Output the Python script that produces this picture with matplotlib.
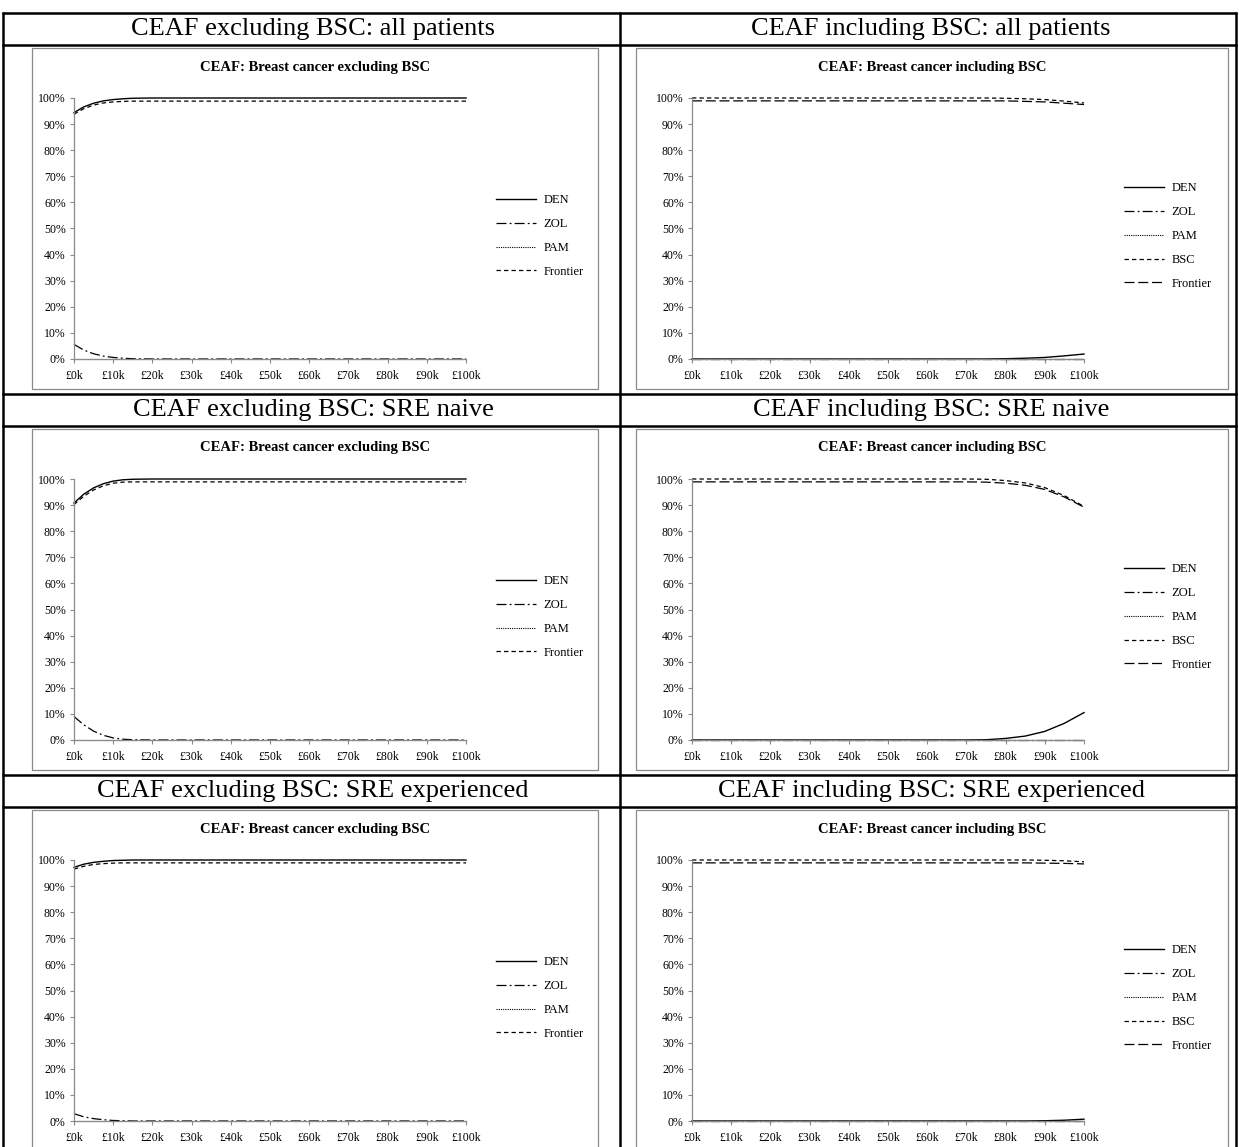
import matplotlib
matplotlib.use('Agg')
import matplotlib.pyplot as plt
from matplotlib.lines import Line2D
from matplotlib.patches import Rectangle

plt.rcParams['font.family'] = ['Liberation Serif', 'DejaVu Serif']

W, H = 1239, 1147

# willingness to pay threshold (£k)
wtp = [0, 2.5, 5, 7.5, 10, 12.5, 15, 20, 30, 40, 50, 60, 70, 75, 80, 85, 90, 95, 100]
zeros = [0] * len(wtp)

# CEAF excluding BSC
ex_all_den = [94.4, 96.6, 98.0, 98.9, 99.4, 99.7, 99.9, 100, 100, 100, 100, 100, 100, 100, 100, 100, 100, 100, 100]
ex_all_zol = [5.6, 3.4, 2.0, 1.1, 0.6, 0.3, 0.1, 0, 0, 0, 0, 0, 0, 0, 0, 0, 0, 0, 0]
ex_all_front = [93.8, 95.9, 97.3, 98.1, 98.5, 98.7, 98.8, 98.8, 98.8, 98.8, 98.8, 98.8, 98.8, 98.8, 98.8, 98.8, 98.8, 98.8, 98.8]

ex_naive_den = [90.8, 94.2, 96.6, 98.2, 99.2, 99.7, 99.9, 100, 100, 100, 100, 100, 100, 100, 100, 100, 100, 100, 100]
ex_naive_zol = [9.0, 5.8, 3.4, 1.8, 0.8, 0.3, 0.1, 0, 0, 0, 0, 0, 0, 0, 0, 0, 0, 0, 0]
ex_naive_front = [90.2, 93.4, 95.8, 97.4, 98.4, 98.8, 98.9, 98.9, 98.9, 98.9, 98.9, 98.9, 98.9, 98.9, 98.9, 98.9, 98.9, 98.9, 98.9]

ex_exp_den = [97.2, 98.4, 99.1, 99.5, 99.8, 99.9, 100, 100, 100, 100, 100, 100, 100, 100, 100, 100, 100, 100, 100]
ex_exp_zol = [2.8, 1.6, 0.9, 0.5, 0.2, 0.1, 0, 0, 0, 0, 0, 0, 0, 0, 0, 0, 0, 0, 0]
ex_exp_front = [96.5, 97.6, 98.3, 98.6, 98.8, 98.9, 98.9, 98.9, 98.9, 98.9, 98.9, 98.9, 98.9, 98.9, 98.9, 98.9, 98.9, 98.9, 98.9]

# CEAF including BSC
in_all_den = [0, 0, 0, 0, 0, 0, 0, 0, 0, 0, 0, 0, 0, 0, 0.1, 0.3, 0.6, 1.2, 1.9]
in_all_bsc = [100, 100, 100, 100, 100, 100, 100, 100, 100, 100, 100, 100, 100, 100, 99.9, 99.7, 99.4, 98.8, 98.1]
in_all_front = [98.9, 98.9, 98.9, 98.9, 98.9, 98.9, 98.9, 98.9, 98.9, 98.9, 98.9, 98.9, 98.9, 98.9, 98.9, 98.7, 98.5, 98.0, 97.5]

in_naive_den = [0, 0, 0, 0, 0, 0, 0, 0, 0, 0, 0, 0, 0, 0.1, 0.6, 1.5, 3.3, 6.4, 10.5]
in_naive_bsc = [100, 100, 100, 100, 100, 100, 100, 100, 100, 100, 100, 100, 100, 99.9, 99.4, 98.5, 96.7, 93.6, 89.5]
in_naive_front = [98.9, 98.9, 98.9, 98.9, 98.9, 98.9, 98.9, 98.9, 98.9, 98.9, 98.9, 98.9, 98.9, 98.8, 98.4, 97.6, 96.0, 93.1, 89.2]

in_exp_den = [0, 0, 0, 0, 0, 0, 0, 0, 0, 0, 0, 0, 0, 0, 0, 0, 0.1, 0.3, 0.7]
in_exp_bsc = [100, 100, 100, 100, 100, 100, 100, 100, 100, 100, 100, 100, 100, 100, 100, 100, 99.9, 99.7, 99.3]
in_exp_front = [98.9, 98.9, 98.9, 98.9, 98.9, 98.9, 98.9, 98.9, 98.9, 98.9, 98.9, 98.9, 98.9, 98.9, 98.9, 98.9, 98.8, 98.7, 98.5]

headers_left = ['CEAF excluding BSC: all patients', 'CEAF excluding BSC: SRE naive',
                'CEAF excluding BSC: SRE experienced']
headers_right = ['CEAF including BSC: all patients', 'CEAF including BSC: SRE naive',
                 'CEAF including BSC: SRE experienced']
title_left = 'CEAF: Breast cancer excluding BSC'
title_right = 'CEAF: Breast cancer including BSC'
xticks = list(range(0, 101, 10))
xticklabels = ['£%dk' % v for v in xticks]
yticks = list(range(0, 101, 10))
yticklabels = ['%d%%' % v for v in yticks]

left_panels = [
    [('DEN', ex_all_den), ('ZOL', ex_all_zol), ('PAM', zeros), ('Frontier', ex_all_front)],
    [('DEN', ex_naive_den), ('ZOL', ex_naive_zol), ('PAM', zeros), ('Frontier', ex_naive_front)],
    [('DEN', ex_exp_den), ('ZOL', ex_exp_zol), ('PAM', zeros), ('Frontier', ex_exp_front)],
]
right_panels = [
    [('DEN', in_all_den), ('ZOL', zeros), ('PAM', zeros), ('BSC', in_all_bsc), ('Frontier', in_all_front)],
    [('DEN', in_naive_den), ('ZOL', zeros), ('PAM', zeros), ('BSC', in_naive_bsc), ('Frontier', in_naive_front)],
    [('DEN', in_exp_den), ('ZOL', zeros), ('PAM', zeros), ('BSC', in_exp_bsc), ('Frontier', in_exp_front)],
]

styles_left = {
    'DEN': dict(ls='-', lw=1.0),
    'ZOL': dict(ls=(0, (8, 2.5, 1.5, 2.5)), lw=0.9),
    'PAM': dict(ls=(0, (1, 1)), lw=0.8),
    'Frontier': dict(ls=(0, (3.5, 2.5)), lw=0.9),
}
styles_right = dict(styles_left)
styles_right['BSC'] = dict(ls=(0, (3.5, 2.5)), lw=0.9)
styles_right['Frontier'] = dict(ls=(0, (8, 3)), lw=0.9)

fig = plt.figure(figsize=(W / 100, H / 100), dpi=100)


def fx(x):
    return x / W


def fy(y):
    return 1 - y / H


def add_axes_px(x0, y0, x1, y1):
    return fig.add_axes([fx(x0), fy(y1), (x1 - x0) / W, (y1 - y0) / H])


# table grid
black = dict(color='black', lw=1.8, transform=fig.transFigure, solid_capstyle='butt')
for xv in [3, 620, 1236]:
    fig.add_artist(Line2D([fx(xv), fx(xv)], [fy(12), fy(1147)], **black))
for yv in [13, 45, 394, 426, 775, 807]:
    fig.add_artist(Line2D([fx(2), fx(1237)], [fy(yv), fy(yv)], **black))

grey = '#8a8a8a'
pitch = 381
col_specs = [
    (0, 32, 598, 74, 466, 496, headers_left, title_left, left_panels, styles_left),
    (618, 636, 1228, 692, 1084, 1124, headers_right, title_right, right_panels, styles_right),
]

for (cx, bx0, bx1, ax0, ax1, lx, heads, ttl, panels, styles) in col_specs:
    for r in range(3):
        off = r * pitch
        fig.text(fx(cx + 313), fy(29 + off), heads[r], ha='center', va='center', fontsize=19)
        fig.add_artist(Rectangle((fx(bx0), fy(389 + off)), (bx1 - bx0) / W, (389 - 48) / H,
                                 transform=fig.transFigure, fill=False, edgecolor=grey, lw=0.9))
        fig.text(fx((bx0 + bx1) / 2), fy(67 + off), ttl, ha='center', va='center',
                 fontsize=10.5, fontweight='bold')

        ax = add_axes_px(ax0, 98 + off, ax1, 359 + off)
        handles = []
        for name, vals in panels[r]:
            st = styles[name]
            h, = ax.plot(wtp, vals, color='black', linestyle=st['ls'], lw=st['lw'],
                         clip_on=False, label=name)
            handles.append(h)
        ax.set_xlim(0, 100)
        ax.set_ylim(0, 100)
        ax.set_xticks(xticks)
        ax.set_xticklabels(xticklabels)
        ax.set_yticks(yticks)
        ax.set_yticklabels(yticklabels)
        ax.tick_params(axis='both', direction='out', length=3, width=0.8, color=grey,
                       labelsize=8.5, pad=3)
        ax.tick_params(axis='x', pad=5)
        for s in ['top', 'right']:
            ax.spines[s].set_visible(False)
        for s in ['left', 'bottom']:
            ax.spines[s].set_color(grey)
            ax.spines[s].set_linewidth(0.9)
        ax.patch.set_alpha(0)

        ax.legend(handles=handles, loc='center left', bbox_to_anchor=(fx(lx), fy(236 + off)),
                  bbox_transform=fig.transFigure, frameon=False, fontsize=9,
                  handlelength=3.2, handletextpad=0.6, labelspacing=0.95,
                  borderpad=0, borderaxespad=0)

fig.savefig('out.png', dpi=100)
